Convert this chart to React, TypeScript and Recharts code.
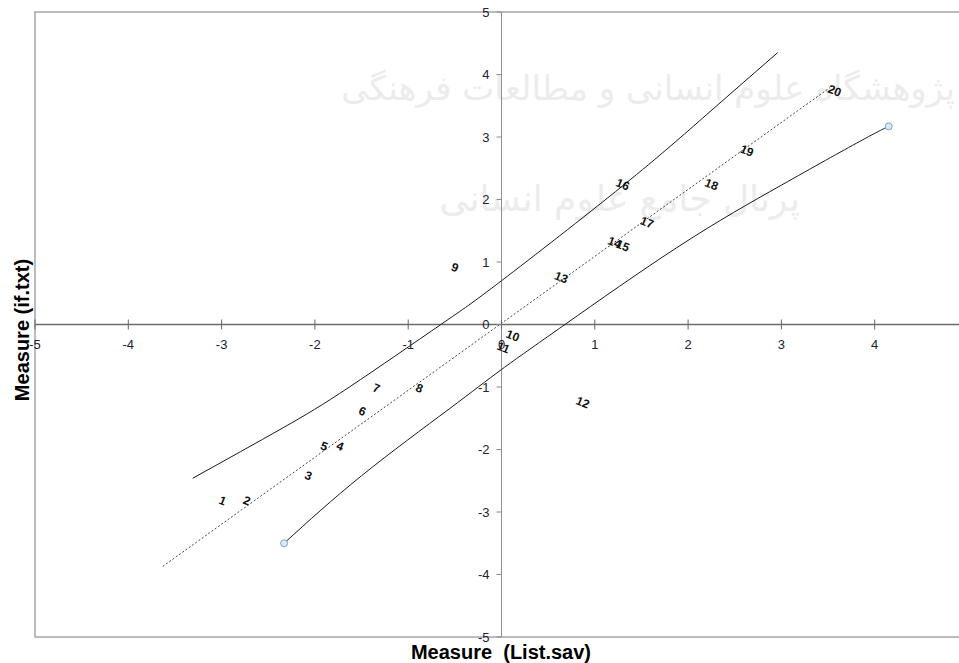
import { ComposedChart, Line, Scatter, XAxis, YAxis, ReferenceLine, ReferenceArea } from 'recharts';

/* ── Data ─────────────────────────────────────────────────────────────────── */

// x = 5 lies just past the right edge of the picture, so its label is not shown
const xTicks = [-5, -4, -3, -2, -1, 0, 1, 2, 3, 4];
const yTicks = [-5, -4, -3, -2, -1, 0, 1, 2, 3, 4, 5];

// item numbers and their measures (List.sav on x, if.txt on y)
const itemLabels = ['1', '2', '3', '4', '5', '6', '7', '8', '9', '10', '11', '12', '13', '14', '15', '16', '17', '18', '19', '20'];
const itemX = [-2.99, -2.73, -2.07, -1.73, -1.9, -1.49, -1.34, -0.88, -0.5, 0.12, 0.02, 0.87, 0.64, 1.21, 1.3, 1.3, 1.56, 2.25, 2.63, 3.57];
const itemY = [-2.82, -2.82, -2.42, -1.95, -1.95, -1.39, -1.02, -1.02, 0.91, -0.18, -0.37, -1.25, 0.75, 1.31, 1.26, 2.24, 1.63, 2.24, 2.78, 3.74];

// dotted identity (trend) line
const identityX = [-3.63, 3.52];
const identityY = [-3.87, 3.79];

// upper control limit
const upperX = [-3.31, -2.35, -1.63, -0.65, 0, 1.3, 2.2, 2.96];
const upperY = [-2.46, -1.66, -1.0, 0, 0.7, 2.22, 3.36, 4.35];

// lower control limit
const lowerX = [-2.33, -1.5, -0.56, 0, 0.68, 1.91, 3.0, 3.84, 4.15];
const lowerY = [-3.5, -2.42, -1.35, -0.72, 0, 1.26, 2.23, 2.93, 3.17];

/* ── Layout ───────────────────────────────────────────────────────────────── */

const W = 1000;
const H = 663;
const M = { top: 12, right: 32, bottom: 25, left: 34 };
const PLOT_LEFT = M.left + 1;
const PLOT_BOTTOM = H - M.bottom - 1;
const ZERO_X = PLOT_LEFT + (W - M.right - PLOT_LEFT) / 2;
const ZERO_Y = M.top + (PLOT_BOTTOM - M.top) / 2;

const zip = (xs: number[], ys: number[]) => xs.map((x, i) => ({ x, y: ys[i] }));

const items = itemLabels.map((label, i) => ({ x: itemX[i], y: itemY[i], label }));
const identityData = zip(identityX, identityY);
const upperData = zip(upperX, upperY);
const lowerData = zip(lowerX, lowerY);
const lowerEnds = [lowerData[0], lowerData[lowerData.length - 1]];

const tickFont = { fontFamily: '"Liberation Sans", Arial, sans-serif', fontSize: 13, fill: '#222233' };

function XTick({ x, payload }: any) {
  return (
    <g>
      <line x1={x} x2={x} y1={ZERO_Y - 5} y2={ZERO_Y + 5} stroke="#666" />
      <text x={x} y={ZERO_Y + 20} textAnchor="middle" dominantBaseline="central" {...tickFont}>
        {payload.value}
      </text>
    </g>
  );
}

function YTick({ y, payload }: any) {
  return (
    <g>
      <line x1={ZERO_X - 5} x2={ZERO_X} y1={y} y2={y} stroke="#888" />
      <text x={ZERO_X - 12} y={y} textAnchor="end" dominantBaseline="central" {...tickFont}>
        {payload.value}
      </text>
    </g>
  );
}

function ItemLabel({ cx, cy, payload }: any) {
  return (
    <text
      x={cx}
      y={cy}
      transform={`rotate(22 ${cx} ${cy})`}
      textAnchor="middle"
      dominantBaseline="central"
      fontFamily='"Liberation Sans", Arial, sans-serif'
      fontWeight="bold"
      fontSize={12}
      fill="#111"
    >
      {payload.label}
    </text>
  );
}

function EndDot({ cx, cy }: any) {
  return <circle cx={cx} cy={cy} r={3.5} fill="#dce8f3" stroke="#7ea3c6" strokeWidth={1} />;
}

const titleStyle: React.CSSProperties = {
  position: 'absolute',
  fontFamily: '"Liberation Sans", Arial, sans-serif',
  fontWeight: 'bold',
  fontSize: 20,
  color: '#000',
  whiteSpace: 'nowrap',
};

const watermarkStyle: React.CSSProperties = {
  position: 'absolute',
  fontFamily: '"DejaVu Sans", sans-serif',
  color: '#ececec',
  whiteSpace: 'nowrap',
  direction: 'rtl',
  textAlign: 'center',
};

export default function App() {
  return (
    <div style={{ position: 'absolute', left: 0, top: 0, width: 959, height: 663, overflow: 'hidden', background: '#fff' }}>
      {/* faint watermark of the source scan */}
      <div style={{ ...watermarkStyle, left: 345, top: 68, width: 610, fontSize: 34 }}>
        پژوهشگاه علوم انسانی و مطالعات فرهنگی
      </div>
      <div style={{ ...watermarkStyle, left: 450, top: 178, width: 350, fontSize: 36 }}>
        پرتال جامع علوم انسانی
      </div>

      <div style={{ position: 'absolute', left: 0, top: 0 }}>
        <ComposedChart width={W} height={H} margin={M}>
          <XAxis
            type="number"
            dataKey="x"
            domain={[-5, 5]}
            ticks={xTicks}
            interval={0}
            height={1}
            axisLine={false}
            tickLine={false}
            tick={<XTick />}
          />
          <YAxis
            type="number"
            dataKey="y"
            domain={[-5, 5]}
            ticks={yTicks}
            interval={0}
            width={1}
            axisLine={false}
            tickLine={false}
            tick={<YTick />}
          />
          <ReferenceArea x1={-5} x2={5} y1={-5} y2={5} fill="none" stroke="#a6a6a6" strokeWidth={1.5} />
          <ReferenceLine x={0} stroke="#8f8f8f" />
          <ReferenceLine y={0} stroke="#6c6c6c" strokeWidth={1.5} />

          <Line data={upperData} dataKey="y" type="natural" dot={false} stroke="#1a1a1a" strokeWidth={1} isAnimationActive={false} />
          <Line data={lowerData} dataKey="y" type="natural" dot={false} stroke="#1a1a1a" strokeWidth={1} isAnimationActive={false} />
          <Line data={identityData} dataKey="y" type="linear" dot={false} stroke="#444" strokeWidth={1} strokeDasharray="2 2" isAnimationActive={false} />
          <Scatter data={lowerEnds} dataKey="y" shape={<EndDot />} isAnimationActive={false} />
          <Scatter data={items} dataKey="y" shape={<ItemLabel />} isAnimationActive={false} />
        </ComposedChart>
      </div>

      <div style={{ ...titleStyle, left: 501, top: 652, transform: 'translate(-50%, -50%)' }}>Measure&nbsp;&nbsp;(List.sav)</div>
      <div style={{ ...titleStyle, left: 22, top: 330, transform: 'translate(-50%, -50%) rotate(-90deg)' }}>Measure (if.txt)</div>
    </div>
  );
}
